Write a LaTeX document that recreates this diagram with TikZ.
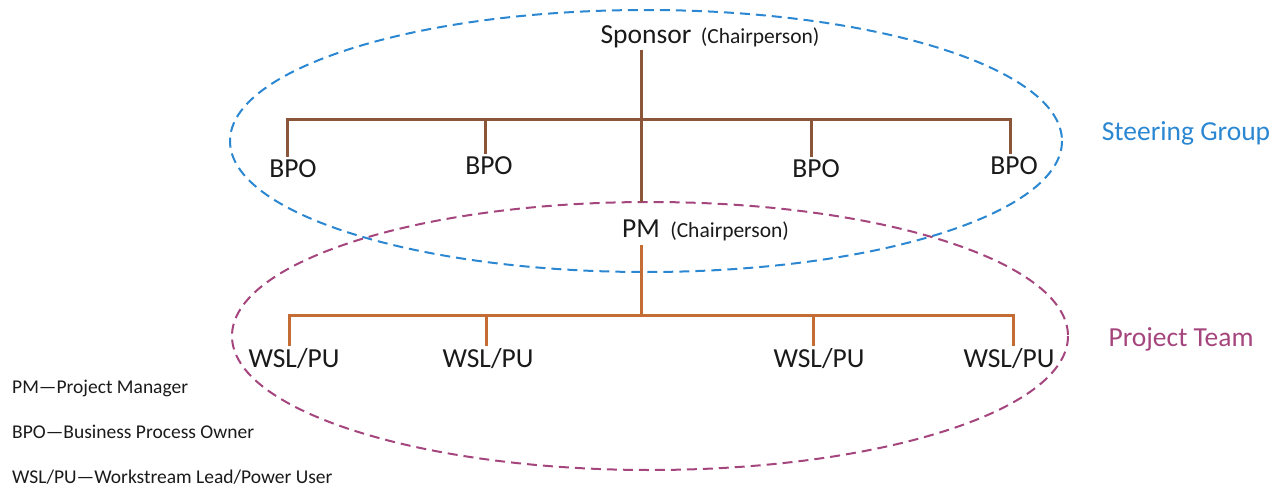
\documentclass[tikz,border=0pt]{standalone}
\usepackage{fontspec}
\setmainfont{Carlito}
\usetikzlibrary{positioning}
\definecolor{sponsorline}{HTML}{8A5538}
\definecolor{pmline}{HTML}{C46C33}
\definecolor{steerblue}{HTML}{2B87D1}
\definecolor{teammag}{HTML}{A5457D}
\definecolor{labelgrey}{HTML}{1A1A1A}

\begin{document}
\begin{tikzpicture}[x=1pt, y=-1pt,
  lbl/.style={font=\fontsize{27.5}{30}\selectfont, text=labelgrey, inner sep=2pt, anchor=base},
  role/.style={font=\fontsize{21.5}{24}\selectfont, text=labelgrey, inner sep=0pt},
  steer/.style={draw=sponsorline, line width=3pt},
  team/.style={draw=pmline, line width=3pt},
  group/.style={dash pattern=on 10pt off 6pt, line width=2pt},
  grouplbl/.style={font=\fontsize{27.5}{30}\selectfont},
  legend/.style={font=\fontsize{19.5}{22}\selectfont, text=labelgrey, anchor=base west, inner sep=0pt}]
  \useasboundingbox (0,0) rectangle (1280,490);
  % ===== groups =====
  \draw[group, draw=steerblue] (646,141) ellipse [x radius=416, y radius=131];
  \draw[group, draw=teammag] (650,336) ellipse [x radius=418, y radius=134];
  \node[grouplbl, text=steerblue] (steering) at (1186,133) {Steering Group};
  \node[grouplbl, text=teammag] (projteam) at (1181,339) {Project Team};
  % ===== steering group =====
  \node[lbl] (sponsor) at (646,43) {Sponsor};
  \node[role, right=7pt of sponsor.base east, anchor=base west] (sponsorrole) {(Chairperson)};
  \node[lbl] (pm) at (641,237) {PM};
  \node[role, right=8pt of pm.base east, anchor=base west] (pmrole) {(Chairperson)};
  \coordinate (sbus) at (641,119);
  \foreach \i/\x/\y/\s in {1/293/177/-6, 2/489/174/-4, 3/816/177/-5, 4/1014/174/-4} {
    \node[lbl] (bpo\i) at (\x,\y) {BPO};
    \coordinate (bpo\i-top) at ([xshift=\s pt]bpo\i.north);
  }
  \draw[steer, shorten >=15pt] (sponsor.south -| pm.north) -- (pm.north);
  \draw[steer] (bpo1-top) |- (sbus) -| (bpo4-top);
  \draw[steer] (sbus -| bpo2-top) -- (bpo2-top);
  \draw[steer] (sbus -| bpo3-top) -- (bpo3-top);
  % ===== project team =====
  \coordinate (tbus) at (641,315);
  \foreach \i/\x/\s in {1/294/-5, 2/488/-2, 3/819/-6, 4/1009/4} {
    \node[lbl] (wsl\i) at (\x,367) {WSL/PU};
    \coordinate (wsl\i-top) at ([xshift=\s pt]wsl\i.north);
  }
  \draw[team, shorten <=6pt] (pm.south) -- (tbus);
  \draw[team] (wsl1-top) |- (tbus) -| (wsl4-top);
  \draw[team] (tbus -| wsl2-top) -- (wsl2-top);
  \draw[team] (tbus -| wsl3-top) -- (wsl3-top);
  % ===== legend =====
  \node[legend] (legpm) at (12,393) {PM—Project Manager};
  \node[legend] (legbpo) at (12,438) {BPO—Business Process Owner};
  \node[legend] (legwsl) at (12,483) {WSL/PU—Workstream Lead/Power User};
\end{tikzpicture}
\end{document}
